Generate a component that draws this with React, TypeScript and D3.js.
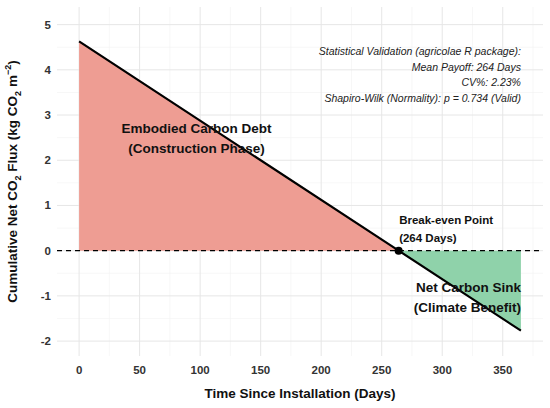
import { useEffect, useRef } from "react"
import * as d3 from "d3"

// Cumulative net flux, linear payoff
const days = [0, 264, 365]
const flux = [4.63, 0, -1.77]
const breakEvenDay = 264

const xTicks = [0, 50, 100, 150, 200, 250, 300, 350]
const yTicks = [-2, -1, 0, 1, 2, 3, 4, 5]
const statsLines = [
  "Statistical Validation (agricolae R package):",
  "Mean Payoff: 264 Days",
  "CV%: 2.23%",
  "Shapiro-Wilk (Normality): p = 0.734 (Valid)",
]

export default function App() {
  const svgRef = useRef<SVGSVGElement>(null)

  useEffect(() => {
    if (!svgRef.current) return
    d3.select(svgRef.current).selectAll("*").remove()

    const W = 550
    const H = 408
    const margin = { top: 7, right: 7, bottom: 52, left: 57 }
    const font = "'Liberation Sans', Arial, sans-serif"

    const svg = d3.select(svgRef.current).attr("width", W).attr("height", H)
    svg.append("rect").attr("width", W).attr("height", H).attr("fill", "#fff")

    const x = d3.scaleLinear().domain([-18.25, 383.25]).range([margin.left, W - margin.right])
    const y = d3.scaleLinear().domain([-2.33, 5.39]).range([H - margin.bottom, margin.top])

    const pts = days.map((d, i) => ({ d, v: flux[i] }))

    // grid (minor + major)
    const grid = svg.append("g")
    const xMinor = d3.range(25, 376, 50)
    const yMinor = d3.range(-1.5, 5, 1)
    grid
      .selectAll(".xminor")
      .data(xMinor)
      .enter()
      .append("line")
      .attr("x1", (d) => x(d))
      .attr("x2", (d) => x(d))
      .attr("y1", y.range()[0])
      .attr("y2", y.range()[1])
      .attr("stroke", "#f2f2f2")
      .attr("stroke-width", 0.6)
    grid
      .selectAll(".yminor")
      .data(yMinor)
      .enter()
      .append("line")
      .attr("x1", x.range()[0])
      .attr("x2", x.range()[1])
      .attr("y1", (d) => y(d))
      .attr("y2", (d) => y(d))
      .attr("stroke", "#f2f2f2")
      .attr("stroke-width", 0.6)
    grid
      .selectAll(".xmajor")
      .data(xTicks)
      .enter()
      .append("line")
      .attr("x1", (d) => x(d))
      .attr("x2", (d) => x(d))
      .attr("y1", y.range()[0])
      .attr("y2", y.range()[1])
      .attr("stroke", "#e6e6e6")
      .attr("stroke-width", 1)
    grid
      .selectAll(".ymajor")
      .data(yTicks)
      .enter()
      .append("line")
      .attr("x1", x.range()[0])
      .attr("x2", x.range()[1])
      .attr("y1", (d) => y(d))
      .attr("y2", (d) => y(d))
      .attr("stroke", "#e6e6e6")
      .attr("stroke-width", 1)

    // areas
    const area = d3
      .area<{ d: number; v: number }>()
      .x((p) => x(p.d))
      .y0(y(0))
      .y1((p) => y(p.v))
    svg
      .append("path")
      .datum(pts.filter((p) => p.d <= breakEvenDay))
      .attr("fill", "#ee9d93")
      .attr("d", area)
    svg
      .append("path")
      .datum(pts.filter((p) => p.d >= breakEvenDay))
      .attr("fill", "#8fd2aa")
      .attr("d", area)

    // zero reference
    svg
      .append("line")
      .attr("x1", x.range()[0])
      .attr("x2", x.range()[1])
      .attr("y1", y(0))
      .attr("y2", y(0))
      .attr("stroke", "#000")
      .attr("stroke-width", 1.1)
      .attr("stroke-dasharray", "5,4")

    // payoff line
    const line = d3
      .line<{ d: number; v: number }>()
      .x((p) => x(p.d))
      .y((p) => y(p.v))
    svg
      .append("path")
      .datum(pts)
      .attr("fill", "none")
      .attr("stroke", "#000")
      .attr("stroke-width", 2.2)
      .attr("d", line)

    svg
      .append("circle")
      .attr("cx", x(breakEvenDay))
      .attr("cy", y(0))
      .attr("r", 4)
      .attr("fill", "#000")

    // tick labels
    svg
      .selectAll(".xt")
      .data(xTicks)
      .enter()
      .append("text")
      .attr("x", (d) => x(d))
      .attr("y", 374)
      .attr("text-anchor", "middle")
      .attr("font-family", font)
      .attr("font-size", 11.5)
      .attr("font-weight", "bold")
      .attr("fill", "#333")
      .text((d) => d)
    svg
      .selectAll(".yt")
      .data(yTicks)
      .enter()
      .append("text")
      .attr("x", 51)
      .attr("y", (d) => y(d) + 4)
      .attr("text-anchor", "end")
      .attr("font-family", font)
      .attr("font-size", 11.5)
      .attr("font-weight", "bold")
      .attr("fill", "#333")
      .text((d) => d)

    // axis titles
    svg
      .append("text")
      .attr("x", (x.range()[0] + x.range()[1]) / 2)
      .attr("y", 398)
      .attr("text-anchor", "middle")
      .attr("font-family", font)
      .attr("font-size", 13.5)
      .attr("font-weight", "bold")
      .attr("fill", "#111")
      .text("Time Since Installation (Days)")

    const yt = svg
      .append("text")
      .attr("transform", `translate(17,${(y.range()[0] + y.range()[1]) / 2}) rotate(-90)`)
      .attr("text-anchor", "middle")
      .attr("font-family", font)
      .attr("font-size", 13.5)
      .attr("font-weight", "bold")
      .attr("fill", "#111")
    yt.append("tspan").text("Cumulative Net CO")
    yt.append("tspan").attr("font-size", 9).attr("dy", 4).text("2")
    yt.append("tspan").attr("dy", -4).text(" Flux (kg CO")
    yt.append("tspan").attr("font-size", 9).attr("dy", 4).text("2")
    yt.append("tspan").attr("dy", -4).text(" m")
    yt.append("tspan").attr("font-size", 9).attr("dy", -6).text("−2")
    yt.append("tspan").attr("dy", 6).text(")")

    // annotations
    const label = (lines: string[], px: number, py: number, anchor: string, size: number, dyLine: number) => {
      lines.forEach((t, i) => {
        svg
          .append("text")
          .attr("x", px)
          .attr("y", py + i * dyLine)
          .attr("text-anchor", anchor)
          .attr("font-family", font)
          .attr("font-size", size)
          .attr("font-weight", "bold")
          .attr("fill", "#111")
          .text(t)
      })
    }
    label(["Embodied Carbon Debt", "(Construction Phase)"], x(97), 133, "middle", 13.5, 20)
    label(["Net Carbon Sink", "(Climate Benefit)"], x(365), 292, "end", 13.5, 20)
    label(["Break-even Point", "(264 Days)"], x(264) + 0.5, 224, "start", 11.5, 18)

    statsLines.forEach((t, i) => {
      svg
        .append("text")
        .attr("x", x(365))
        .attr("y", 55 + i * 15.5)
        .attr("text-anchor", "end")
        .attr("font-family", font)
        .attr("font-size", 10.5)
        .attr("font-style", "italic")
        .attr("fill", "#222")
        .text(t)
    })
  }, [])

  return (
    <svg
      ref={svgRef}
      style={{ position: "absolute", left: 0, top: 0, display: "block" }}
    ></svg>
  )
}
